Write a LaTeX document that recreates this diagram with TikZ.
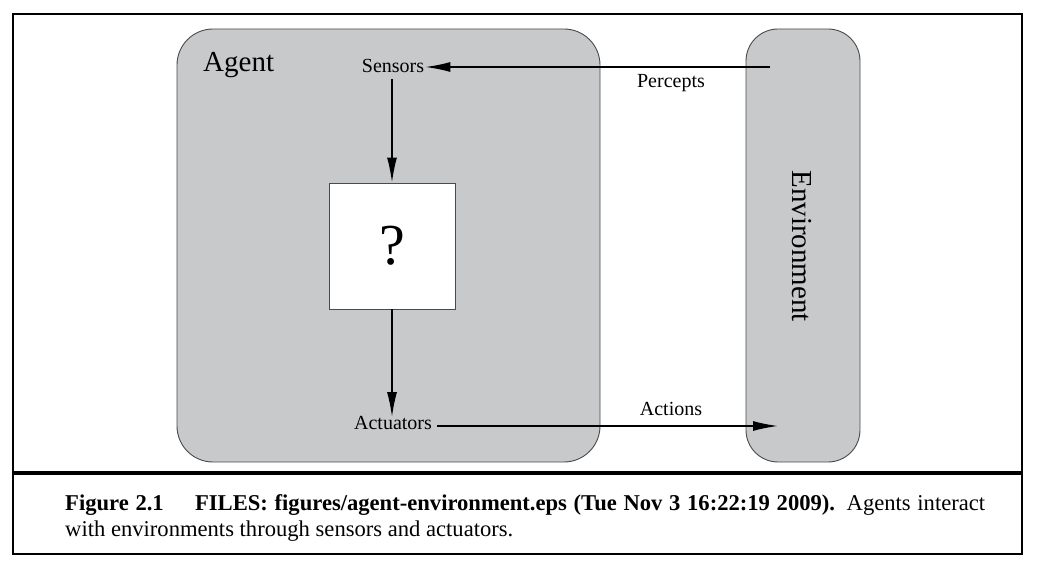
\documentclass[tikz,border=0pt]{standalone}
\usepackage{fontspec}
\setmainfont{Liberation Serif}
\usetikzlibrary{arrows.meta}
\definecolor{boxgray}{HTML}{C8C9CB}
\definecolor{edgegray}{HTML}{4A4A4A}
\tikzset{
  panel/.style={draw=edgegray, line width=0.9pt, fill=boxgray},
  lbl/.style={font=\fontsize{20}{24}\selectfont, inner sep=1pt},
  flow/.style={line width=1.6pt, -{Latex[length=25pt,width=10pt]}},
}
\begin{document}
\begin{tikzpicture}[x=1pt,y=-1pt]
\useasboundingbox (0,0) rectangle (1045,577);
% frame
\draw[line width=2pt] (13,14) rectangle (1022,554);
\draw[line width=3.5pt] (13,473) -- (1022,473);
% panels
\draw[panel, rounded corners=36pt] (177,29) rectangle (600,462);
\draw[panel, rounded corners=32pt] (746,29) rectangle (860,462);
\node[font=\fontsize{29}{34}\selectfont, anchor=base west, inner sep=0] (agent) at (203,72) {Agent};
\node[font=\fontsize{29}{34}\selectfont, rotate=-90, inner sep=0] (env) at (802,246) {Environment};
% inner nodes
\node[lbl] (sens) at (393,66) {Sensors};
\node[draw=edgegray, line width=0.9pt, fill=white, minimum width=126pt, minimum height=126pt, inner sep=0,
      font=\fontsize{58}{62}\selectfont] (q) at (392,246) {\raisebox{-3pt}{?}};
\node[lbl] (act) at (393,423) {Actuators};
\node[lbl] (perc) at (671,83) {Percepts};
\node[lbl] (acts) at (671,409) {Actions};
\coordinate (pin) at (770,67);
\coordinate (aout) at (778,426);
% connectors
\draw[flow] (pin) -- (sens.east |- pin);
\draw[flow] (sens.south -| q.north) ++(0,5) -- (q.north);
\draw[flow] (q.south) -- ([yshift=-2pt]act.north -| q.south);
\draw[flow, shorten <=4pt] (act.east |- aout) -- (aout);
% caption
\node[anchor=base west, inner sep=0, font=\fontsize{22.6}{27}\selectfont] (cap1) at (65,510)
  {\makebox[920pt][s]{\textbf{Figure 2.1}\hspace{1.2em plus 0.5em}\textbf{FILES: figures/agent-environment.eps (Tue Nov 3 16:22:19 2009).}\hspace{0.4em plus 0.3em}Agents interact}};
\node[anchor=base west, inner sep=0, font=\fontsize{22.6}{27}\selectfont] (cap2) at (65,536)
  {with environments through sensors and actuators.};
\end{tikzpicture}
\end{document}
